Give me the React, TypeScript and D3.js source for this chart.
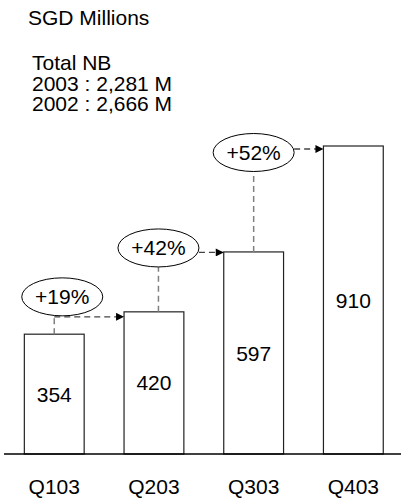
import React from "react";
import * as d3 from "d3";

// New business by quarter (SGD millions)
const quarters = ["Q103", "Q203", "Q303", "Q403"];
const newBusiness = [354, 420, 597, 910];
const headerLines = ["Total NB", "2003 : 2,281 M", "2002 : 2,666 M"];
const unitLabel = "SGD Millions";

// Placement of the growth callouts, relative to the bar they start from
const calloutLayout = [
  { dx: 8, dy: -15, arrowDy: 5, fromBottom: true },
  { dx: 4.5, dy: -4, arrowDy: 0.5, fromBottom: false },
  { dx: 0, dy: 6.5, arrowDy: 3, fromBottom: false },
];

const W = 401;
const H = 501;
const FONT = "'Liberation Sans', Arial, Helvetica, sans-serif";
const FS = 21;

export default function App() {
  const x = d3
    .scaleBand<string>()
    .domain(quarters)
    .range([4.4, 403.2])
    .paddingInner(0.4)
    .paddingOuter(0.2);
  const y = d3.scaleLinear().domain([0, 910]).range([454, 146]);
  const bw = x.bandwidth();
  const cx = (q: string) => (x(q) as number) + bw / 2;
  const pct = d3.format("+.0%");

  const rx = 40.5;
  const ry = 19;

  const callouts = calloutLayout.map((l, i) => {
    const from = quarters[i];
    const to = quarters[i + 1];
    const ecx = cx(from) + l.dx;
    const ecy = y(newBusiness[i + 1]) + l.dy;
    const arrowY = y(newBusiness[i + 1]) + l.arrowDy;
    const vx = l.fromBottom ? cx(from) : ecx;
    return {
      label: pct(newBusiness[i + 1] / newBusiness[i] - 1),
      ecx,
      ecy,
      vx,
      vTop: ecy + ry,
      vBottom: y(newBusiness[i]),
      arrowY,
      arrowX0: l.fromBottom ? cx(from) : ecx + rx,
      arrowX1: x(to) as number,
    };
  });

  return (
    <svg
      width={W}
      height={H}
      style={{ position: "absolute", left: 0, top: 0, background: "#fff" }}
      fontFamily={FONT}
    >
      <defs>
        <marker
          id="head"
          viewBox="0 0 10 10"
          refX="10"
          refY="5"
          markerWidth="9"
          markerHeight="8"
          markerUnits="userSpaceOnUse"
          orient="auto"
        >
          <path d="M0,0 L10,5 L0,10 Z" fill="#000" />
        </marker>
      </defs>

      <text x={28} y={25} fontSize={FS} fill="#000">
        {unitLabel}
      </text>
      {headerLines.map((t, i) => (
        <text key={t} x={32} y={70 + i * 20.7} fontSize={FS} fill="#000">
          {t}
        </text>
      ))}

      {quarters.map((q, i) => (
        <g key={q}>
          <rect
            x={x(q)}
            y={y(newBusiness[i])}
            width={bw}
            height={y(0) - y(newBusiness[i])}
            fill="#fff"
            stroke="#222"
            strokeWidth={1.2}
          />
          <text
            x={cx(q)}
            y={(y(newBusiness[i]) + y(0)) / 2}
            dy="0.36em"
            textAnchor="middle"
            fontSize={FS}
            fill="#000"
          >
            {newBusiness[i]}
          </text>
          <text x={cx(q)} y={494} textAnchor="middle" fontSize={FS} fill="#000">
            {q}
          </text>
        </g>
      ))}

      <line x1={4} x2={401} y1={y(0)} y2={y(0)} stroke="#000" strokeWidth={1.5} />

      {callouts.map((c) => (
        <g key={c.label}>
          <line
            x1={c.vx}
            x2={c.vx}
            y1={c.vBottom}
            y2={c.vTop}
            stroke="#808080"
            strokeWidth={1.5}
            strokeDasharray="6,4"
          />
          <line
            x1={c.arrowX0}
            x2={c.arrowX1}
            y1={c.arrowY}
            y2={c.arrowY}
            stroke="#444"
            strokeWidth={1.3}
            strokeDasharray="6,4"
            markerEnd="url(#head)"
          />
          <ellipse cx={c.ecx} cy={c.ecy} rx={rx} ry={ry} fill="#fff" stroke="#000" strokeWidth={1} />
          <text x={c.ecx} y={c.ecy} dy="0.36em" textAnchor="middle" fontSize={FS} fill="#000">
            {c.label}
          </text>
        </g>
      ))}
    </svg>
  );
}
